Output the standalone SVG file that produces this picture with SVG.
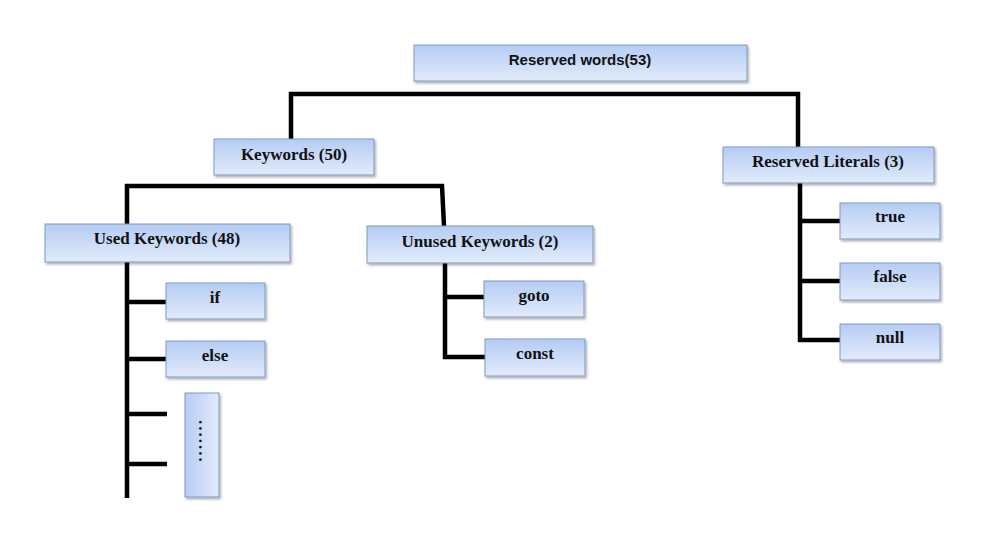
<svg xmlns="http://www.w3.org/2000/svg" width="993" height="538" viewBox="0 0 993 538">
<defs>
<linearGradient id="g" x1="0" y1="0" x2="0" y2="1">
<stop offset="0" stop-color="#b5ccf4"/>
<stop offset="1" stop-color="#e2ebfb"/>
</linearGradient>
<linearGradient id="gh" x1="0" y1="0" x2="1" y2="0">
<stop offset="0" stop-color="#b5ccf4"/>
<stop offset="1" stop-color="#e2ebfb"/>
</linearGradient>
<filter id="sh" x="-10%" y="-20%" width="120%" height="150%">
<feDropShadow dx="1.5" dy="2" stdDeviation="1.2" flood-color="#000" flood-opacity="0.3"/>
</filter>
</defs>
<style>
.box{fill:url(#g);stroke:#7d99c6;stroke-width:1;filter:url(#sh)}
.vbox{fill:url(#gh);stroke:#7d99c6;stroke-width:1;filter:url(#sh)}
.t{font-family:"Liberation Serif","Times New Roman",serif;font-weight:bold;font-size:17px;fill:#111;text-anchor:middle;dominant-baseline:central}
.ts{font-family:"Liberation Sans",Arial,sans-serif;font-weight:bold;font-size:15px;fill:#111;text-anchor:middle;dominant-baseline:central}
.d{font-family:"Liberation Serif","Times New Roman",serif;font-weight:bold;font-size:17px;fill:#111;letter-spacing:2px}
.c{fill:none;stroke:#000;stroke-width:4.5;stroke-linejoin:miter;stroke-linecap:butt}
</style>
<rect width="993" height="538" fill="#fff"/>
<g id="connectors">
<path class="c" d="M291,140 V94 H798 V148"/>
<path class="c" d="M127,225 V186 H442 L444,226"/>
<path class="c" d="M127,262 V498 M127,302 H166 M127,359 H166 M127,414 H167 M127,464 H167"/>
<path class="c" d="M445,263 V357 H485 M445,297 H484"/>
<path class="c" d="M800,183 V340 H840 M800,221 H840 M800,281 H840"/>
</g>
<g id="reserved-words"><rect class="box" x="414" y="45" width="333" height="36"/><text class="ts" x="580" y="59">Reserved words(53)</text></g>
<g id="keywords"><rect class="box" x="214" y="139" width="160" height="36"/><text class="t" x="294" y="154">Keywords (50)</text></g>
<g id="reserved-literals"><rect class="box" x="723" y="147" width="211" height="36"/><text class="t" x="828" y="161">Reserved Literals (3)</text></g>
<g id="used-keywords"><rect class="box" x="45" y="224" width="245" height="38"/><text class="t" x="167" y="238">Used Keywords (48)</text></g>
<g id="unused-keywords"><rect class="box" x="367" y="226" width="226" height="37"/><text class="t" x="480" y="241">Unused Keywords (2)</text></g>
<g id="if"><rect class="box" x="166" y="283" width="99" height="36"/><text class="t" x="215" y="297">if</text></g>
<g id="else"><rect class="box" x="166" y="341" width="99" height="36"/><text class="t" x="215" y="355">else</text></g>
<g id="more"><rect class="vbox" x="185" y="393" width="34" height="104"/><text class="d" x="0" y="0" transform="translate(199,420) rotate(90)">.......</text></g>
<g id="goto"><rect class="box" x="484" y="281" width="100" height="36"/><text class="t" x="534" y="295">goto</text></g>
<g id="const"><rect class="box" x="485" y="339" width="100" height="37"/><text class="t" x="535" y="353">const</text></g>
<g id="true"><rect class="box" x="840" y="203" width="100" height="36"/><text class="t" x="890" y="216">true</text></g>
<g id="false"><rect class="box" x="840" y="263" width="100" height="37"/><text class="t" x="890" y="276">false</text></g>
<g id="null"><rect class="box" x="840" y="324" width="100" height="36"/><text class="t" x="890" y="337">null</text></g>
</svg>
